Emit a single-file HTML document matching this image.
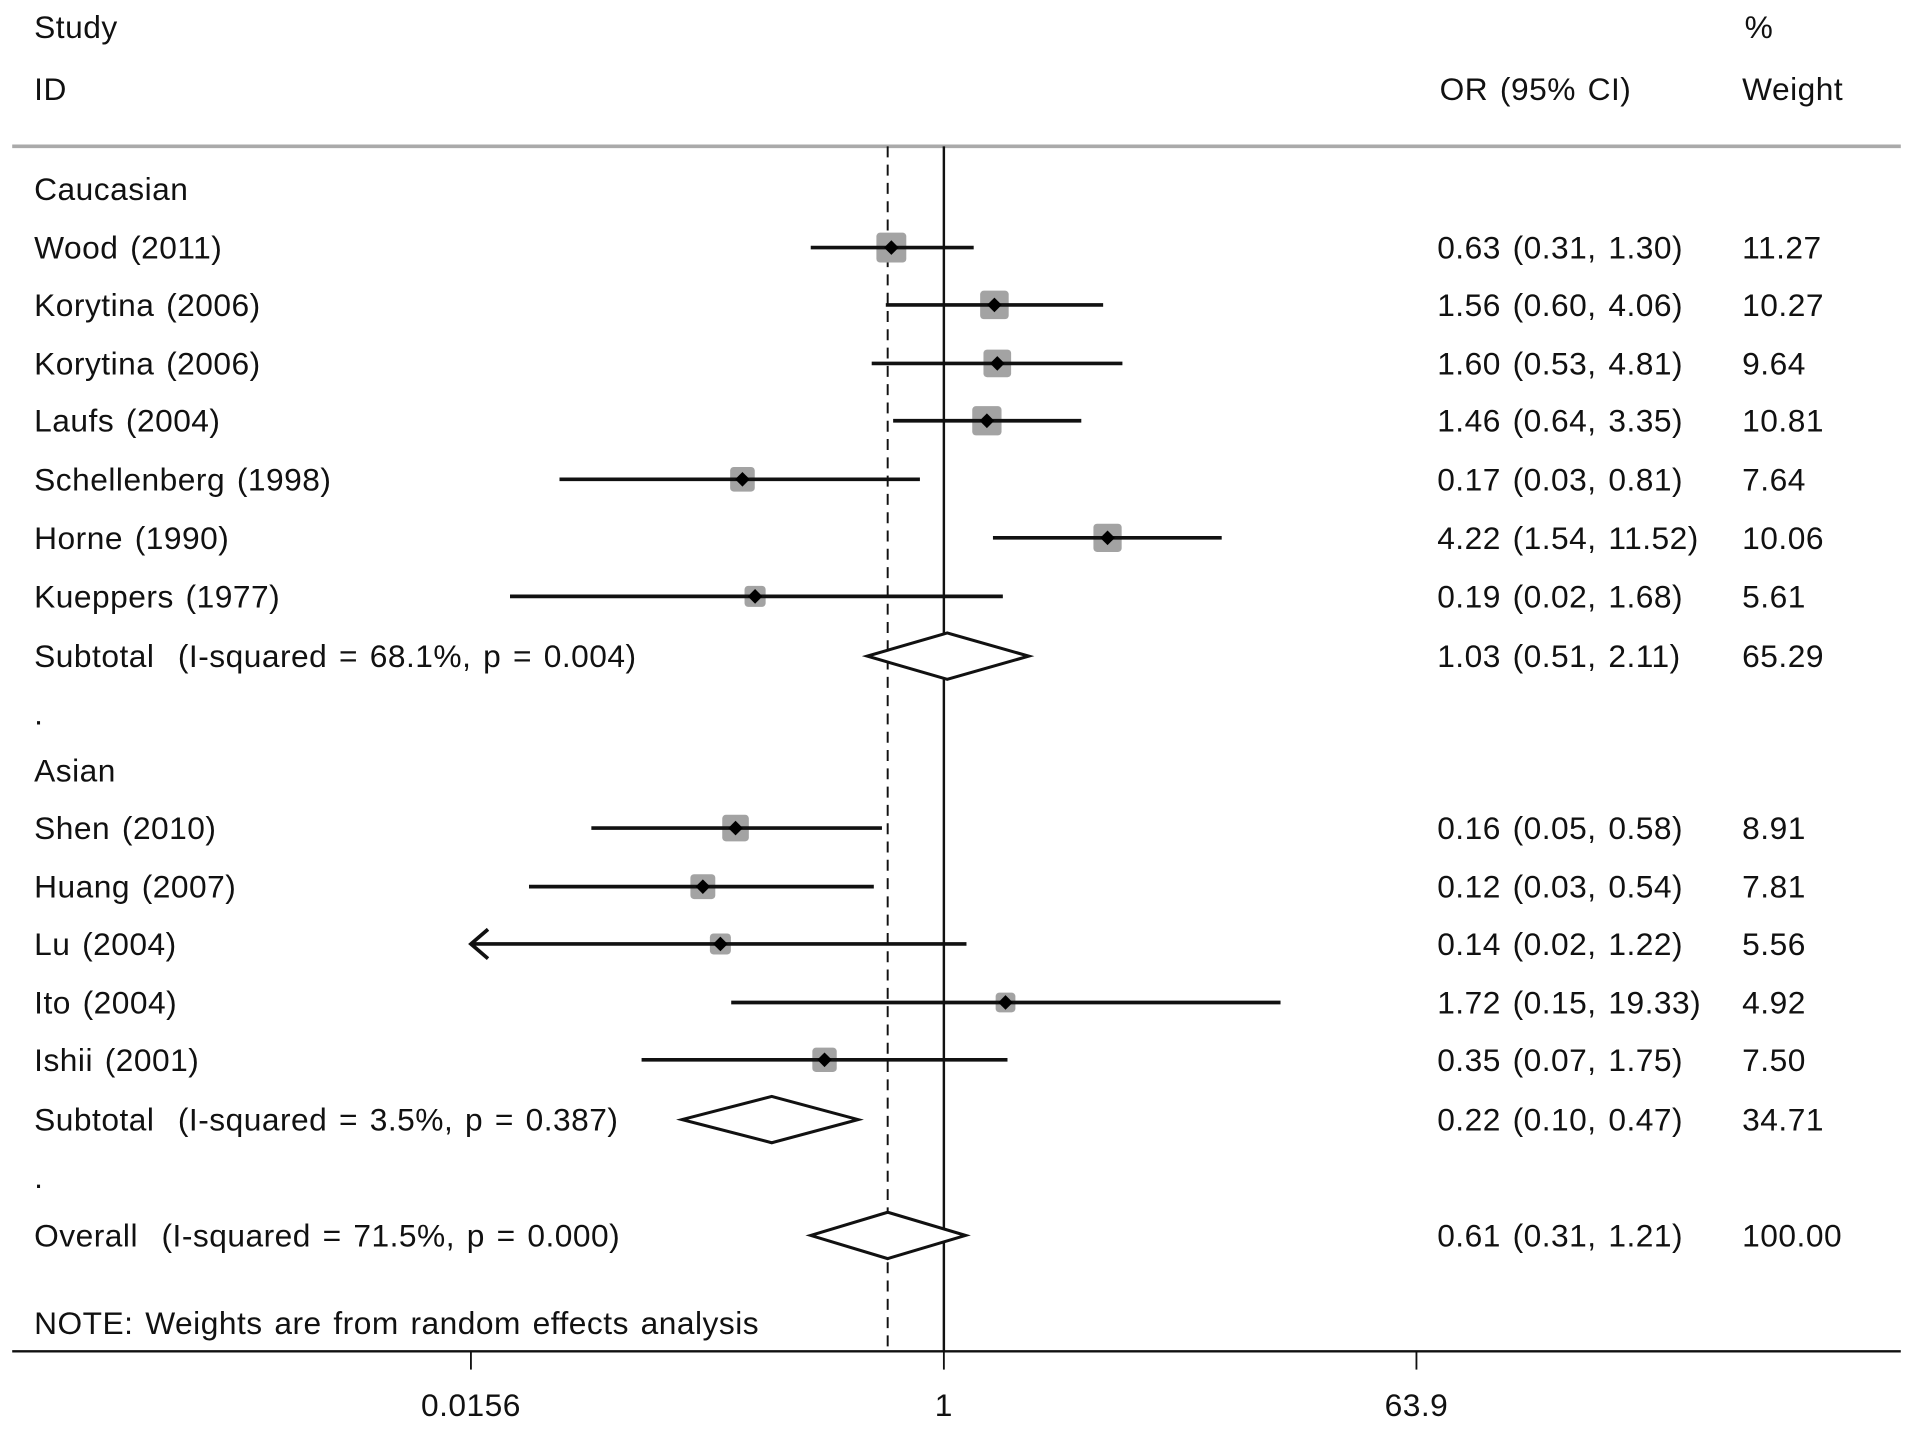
<!DOCTYPE html>
<html><head><meta charset="utf-8"><style>
html,body{margin:0;padding:0;background:#fff;}
svg{display:block;}
text{font-family:"Liberation Sans",Arial,sans-serif;font-size:26px;fill:#111;white-space:pre;letter-spacing:0.4px;word-spacing:2px;}
</style></head><body>
<svg id="chart" width="1913" height="1433" viewBox="0 0 1568 1175" preserveAspectRatio="none" xmlns="http://www.w3.org/2000/svg" xml:space="preserve">
<g id="static">
<text x="28" y="31">Study</text>
<text x="28" y="82">ID</text>
<text x="1180" y="82">OR (95% CI)</text>
<text x="1430" y="31">%</text>
<text x="1428" y="82">Weight</text>
<line x1="10" y1="120" x2="1558" y2="120" stroke="#aaa" stroke-width="3"/>
<line x1="10" y1="1108" x2="1558" y2="1108" stroke="#111" stroke-width="2"/>
<text x="28" y="1094">NOTE: Weights are from random effects analysis</text>
</g>
<g id="plot"></g>
</svg>
<script>
const labels=["Caucasian","Wood (2011)","Korytina (2006)","Korytina (2006)","Laufs (2004)","Schellenberg (1998)","Horne (1990)","Kueppers (1977)","Subtotal  (I-squared = 68.1%, p = 0.004)",".","Asian","Shen (2010)","Huang (2007)","Lu (2004)","Ito (2004)","Ishii (2001)","Subtotal  (I-squared = 3.5%, p = 0.387)",".","Overall  (I-squared = 71.5%, p = 0.000)"];
const kinds=["h","s","s","s","s","s","s","s","d","b","h","s","s","s","s","s","d","b","d"];
const rowY=[155,203,250,298,345,393,441,489,538,585,632,679,727,774,822,869,918,965,1013];
const orVals=[null,0.63,1.56,1.60,1.46,0.17,4.22,0.19,1.03,null,null,0.16,0.12,0.14,1.72,0.35,0.22,null,0.61];
const lowVals=[null,0.31,0.60,0.53,0.64,0.034,1.54,0.022,0.51,null,null,0.045,0.026,0.015,0.154,0.07,0.10,null,0.31];
const highVals=[null,1.30,4.06,4.81,3.35,0.81,11.52,1.68,2.11,null,null,0.58,0.54,1.22,19.33,1.75,0.47,null,1.21];
const weights=[null,11.27,10.27,9.64,10.81,7.64,10.06,5.61,65.29,null,null,8.91,7.81,5.56,4.92,7.50,34.71,null,100.00];
const ciText=["","0.63 (0.31, 1.30)","1.56 (0.60, 4.06)","1.60 (0.53, 4.81)","1.46 (0.64, 3.35)","0.17 (0.03, 0.81)","4.22 (1.54, 11.52)","0.19 (0.02, 1.68)","1.03 (0.51, 2.11)","","","0.16 (0.05, 0.58)","0.12 (0.03, 0.54)","0.14 (0.02, 1.22)","1.72 (0.15, 19.33)","0.35 (0.07, 1.75)","0.22 (0.10, 0.47)","","0.61 (0.31, 1.21)"];
const tickVals=[0.0156,1,63.9];
const tickLabels=["0.0156","1","63.9"];
const overallOR=0.61;
const NS="http://www.w3.org/2000/svg";
const g=document.getElementById('plot');
const xMin=386,xMax=1161;
const lnMin=Math.log(0.0156),lnMax=Math.log(63.9);
function X(v){return xMin+(Math.log(v)-lnMin)/(lnMax-lnMin)*(xMax-xMin);}
function mk(tag,attrs,parent){const e=document.createElementNS(NS,tag);for(const k in attrs)e.setAttribute(k,attrs[k]);(parent||g).appendChild(e);return e;}
const fmt=v=>v.toFixed(2);
let ln=mk('line',{x1:X(1),y1:120,x2:X(1),y2:1108,stroke:'#111','stroke-width':2});


ln=mk('line',{x1:X(overallOR),y1:120,x2:X(overallOR),y2:1108,stroke:'#111','stroke-width':1.6,'stroke-dasharray':'9,6'});


tickVals.forEach((v,i)=>{
 const t=mk('line',{x1:X(v),y1:1108,x2:X(v),y2:1123,stroke:'#111','stroke-width':1.5});
 
 
 const tl=mk('text',{x:X(v),y:1161,'text-anchor':'middle'});
 tl.textContent=tickLabels[i];
 
 
});
rowY.forEach((y,i)=>{
 const lab=mk('text',{x:28,y:y+9});
 lab.textContent=labels[i];
 
 
 if(orVals[i]==null)return;
 const ort=mk('text',{x:1178,y:y+9});
 ort.textContent=ciText[i];
 
 
 const wt=mk('text',{x:1428,y:y+9});
 wt.textContent=fmt(weights[i]);
 
 
 if(kinds[i]==='s'){
  const side=7.3*Math.sqrt(weights[i]);
  const cx=X(orVals[i]);
  const b=mk('rect',{x:cx-side/2,y:y-side/2,width:side,height:side,rx:3,fill:'#a3a3a3'});
  
  
  const lo=Math.max(X(lowVals[i]),xMin);
  const c=mk('line',{x1:lo,y1:y,x2:X(highVals[i]),y2:y,stroke:'#111','stroke-width':3});
  
  
  if(lowVals[i]<0.0165){
   const a=mk('polyline',{points:(lo+14)+','+(y-12)+' '+lo+','+y+' '+(lo+14)+','+(y+12),fill:'none',stroke:'#111','stroke-width':3});
   
   
  }
  const p=mk('polygon',{points:(cx-6)+','+y+' '+cx+','+(y-6)+' '+(cx+6)+','+y+' '+cx+','+(y+6),fill:'#000'});
  
  
 } else {
  const l=X(lowVals[i]),r=X(highVals[i]),c=X(orVals[i]);
  const d=mk('polygon',{points:l+','+y+' '+c+','+(y-19)+' '+r+','+y+' '+c+','+(y+19),fill:'#fff',stroke:'#111','stroke-width':2.5});
  
  
 }
});
</script>
</body></html>
